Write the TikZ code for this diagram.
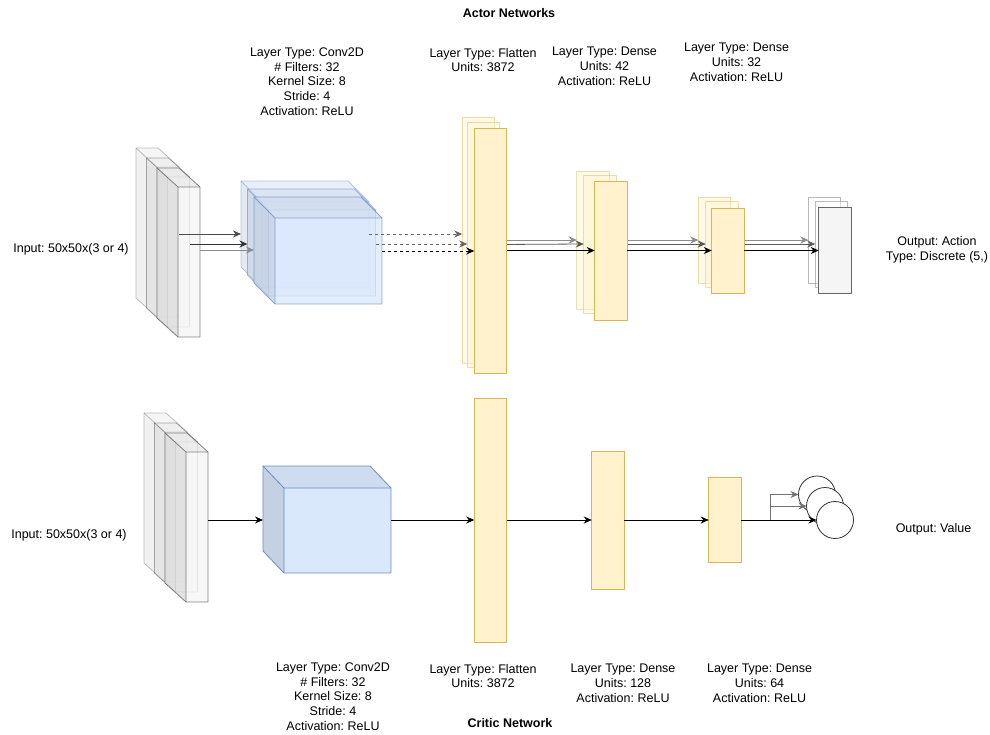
\documentclass[tikz,border=0pt]{standalone}
\usepackage{fontspec}
\setmainfont{Liberation Sans}
\usetikzlibrary{arrows.meta}
\usetikzlibrary{positioning}
\definecolor{convfill}{HTML}{DAE8FC}
\definecolor{convedge}{HTML}{6C8EBF}
\definecolor{densefill}{HTML}{FFF2CC}
\definecolor{denseedge}{HTML}{D6B656}
\definecolor{inputfill}{HTML}{F5F5F5}
\definecolor{inputedge}{HTML}{666666}
\frenchspacing

% #1 options, #2 fill, #3 name, #4/#5 front top-left, #6/#7 width/height, #8/#9 depth
\newcommand{\cuboid}[9]{%
  \begin{scope}[shift={(#4,#5)},line width=0.8pt,#1]
    \fill[fill=#2] (0,0) rectangle (#6,#7);
    \fill[fill=#2!95!black] (-#8,-#9) -- (#6-#8,-#9) -- (#6,0) -- (0,0) -- cycle;
    \fill[fill=#2!90!black] (-#8,-#9) -- (0,0) -- (0,#7) -- (-#8,#7-#9) -- cycle;
    \draw (-#8,-#9) -- (#6-#8,-#9) -- (#6,0) -- (#6,#7) -- (0,#7) -- (-#8,#7-#9) -- cycle;
    \draw (-#8,-#9) -- (0,0) -- (#6,0) (0,0) -- (0,#7);
    \coordinate (#3-w) at (-#8,#7/2);
    \coordinate (#3-e) at (#6,#7/2);
  \end{scope}}

\begin{document}
\begin{tikzpicture}[x=1pt,y=-1pt,line join=round,
  lbl/.style={align=center,inner sep=0pt,font=\fontsize{12.5}{14.8}\selectfont},
  ttl/.style={lbl,font=\bfseries\fontsize{12.5}{14.8}\selectfont},
  dense/.style={draw=denseedge,fill=densefill,line width=0.8pt,inner sep=0pt,outer sep=0pt,minimum width=32.5pt},
  outbox/.style={draw=inputedge,fill=inputfill,line width=0.8pt,inner sep=0pt,outer sep=0pt,minimum width=32.5pt,minimum height=86pt},
  unit/.style={circle,draw=black!80,fill=white,line width=0.8pt,minimum size=37pt,inner sep=0pt,outer sep=0pt},
  conn/.style={line width=0.8pt,-{Stealth[length=8pt,width=7pt]}},
  faded/.style={opacity=0.45}]
\useasboundingbox (0,0) rectangle (990,735);

% actor
\cuboid{draw=inputedge,opacity=0.4}{inputfill}{ai0}{157}{167}{22}{150}{21}{19}
\cuboid{draw=inputedge,opacity=0.55}{inputfill}{ai1}{167.5}{177}{22}{150}{21}{19}
\cuboid{draw=inputedge,opacity=0.8}{inputfill}{ai2}{178}{187}{22}{150}{21}{19}
\cuboid{draw=convedge,opacity=0.45}{convfill}{ac0}{262}{202}{107}{86}{21}{21}
\cuboid{draw=convedge,opacity=0.6}{convfill}{ac1}{268.5}{210}{107}{86}{21}{21}
\cuboid{draw=convedge,opacity=0.75}{convfill}{ac2}{275}{218}{107}{86}{21}{21}

\node[dense,faded,minimum height=246pt] (af0) at (478.5,240) {};
\node[dense,faded,minimum height=245pt] (af1) at (483.5,244.5) {};
\node[dense,faded,minimum height=138pt] (ad10) at (593,240) {};
\node[dense,faded,minimum height=138pt] (ad11) at (600,244) {};
\node[dense,faded,minimum height=86pt] (ad20) at (714.5,240) {};
\node[dense,faded,minimum height=86pt] (ad21) at (722,244) {};
\node[outbox,faded,fill=white] (ao0) at (824.5,240) {};
\node[outbox,faded,fill=white] (ao1) at (831.5,244) {};

\draw[conn,black!45] (af0.east) -- (ad10.west);
\draw[conn,black!65] (af1.east) -- (ad11.west);
\draw[conn,black!45] (ad10.east) -- (ad20.west);
\draw[conn,black!65] (ad11.east) -- (ad21.west);
\draw[conn,black!45] (ad20.east) -- (ao0.west);
\draw[conn,black!65] (ad21.east) -- (ao1.west);

\node[dense,minimum height=245pt] (af2) at (490.5,250.5) {};
\node[dense,minimum height=139pt] (ad12) at (611,250.5) {};
\node[dense,minimum height=85pt] (ad22) at (728,250.5) {};
\node[outbox] (ao2) at (835,250.5) {};

\draw[conn,black!70] (ai0-e |- 0,234) -- (ac0-w |- 0,234);
\draw[conn,black!80] (ai1-e |- 0,244) -- (ac1-w |- 0,244);
\draw[conn,black!45] (ai2-e |- 0,250) -- (ac2-w |- 0,250);
\draw[conn,dashed,black!60] (ac0-e |- 0,234) -- (af0.west |- 0,234);
\draw[conn,dashed,black!60] (ac1-e |- 0,244) -- (af1.west |- 0,244);
\draw[conn,dashed] (ac2-e |- 0,251) -- (af2.west |- 0,251);
\draw[conn] (af2.east) -- (ad12.west);
\draw[conn] (ad12.east) -- (ad22.west);
\draw[conn] (ad22.east) -- (ao2.west);

% critic
\cuboid{draw=inputedge,opacity=0.4}{inputfill}{ci0}{165}{432}{22}{150}{21}{19}
\cuboid{draw=inputedge,opacity=0.55}{inputfill}{ci1}{175.5}{442}{22}{150}{21}{19}
\cuboid{draw=inputedge,opacity=0.8}{inputfill}{ci2}{186}{452}{22}{150}{21}{19}
\cuboid{draw=convedge}{convfill}{cc}{284}{488}{107}{85}{21}{22}

\node[dense,minimum height=244pt] (cf) at (490.5,520) {};
\node[dense,minimum height=138pt] (cd1) at (608,520) {};
\node[dense,minimum height=85pt] (cd2) at (725,520) {};
\node[unit] (cv0) at (817,494.5) {};
\node[unit] (cv1) at (825,506) {};
\node[unit] (cv2) at (835,520) {};

\draw[conn] (ci2-e |- 0,520) -- (cc-w |- 0,520);
\draw[conn] (cc-e |- 0,520) -- (cf.west);
\draw[conn] (cf.east) -- (cd1.west);
\draw[conn] (cd1.east) -- (cd2.west);
\draw[conn,black!55] (cd2.east) -- ++(29,0) |- (cv0.west);
\draw[conn,black!55] (cd2.east) -- ++(29,0) |- (cv1.west);
\draw[conn] (cd2.east) -- (cv2.west);

% labels
\node[ttl] (tactor) at (509,13) {Actor Networks};
\node[ttl] (tcritic) at (510,723) {Critic Network};
\node[lbl] (lai) at (71,249) {Input: 50x50x(3 or 4)};
\node[lbl] (lac) at (307,81.5) {Layer Type: Conv2D\\\# Filters: 32\\Kernel Size: 8\\Stride: 4\\Activation: ReLU};
\node[lbl] (laf) at (483,60) {Layer Type: Flatten\\Units: 3872};
\node[lbl] (lad1) at (604.5,66.5) {Layer Type: Dense\\Units: 42\\Activation: ReLU};
\node[lbl] (lad2) at (736.5,62.5) {Layer Type: Dense\\Units: 32\\Activation: ReLU};
\node[lbl] (lao) at (937,250) {Output: Action\\Type: Discrete (5,)};
\node[lbl] (lci) at (69,535) {Input: 50x50x(3 or 4)};
\node[lbl] (lcc) at (333,696.5) {Layer Type: Conv2D\\\# Filters: 32\\Kernel Size: 8\\Stride: 4\\Activation: ReLU};
\node[lbl] (lcf) at (483,676) {Layer Type: Flatten\\Units: 3872};
\node[lbl] (lcd1) at (623,683.5) {Layer Type: Dense\\Units: 128\\Activation: ReLU};
\node[lbl] (lcd2) at (759.5,683.5) {Layer Type: Dense\\Units: 64\\Activation: ReLU};
\node[lbl] (lco) at (933.5,529) {Output: Value};
\end{tikzpicture}
\end{document}
